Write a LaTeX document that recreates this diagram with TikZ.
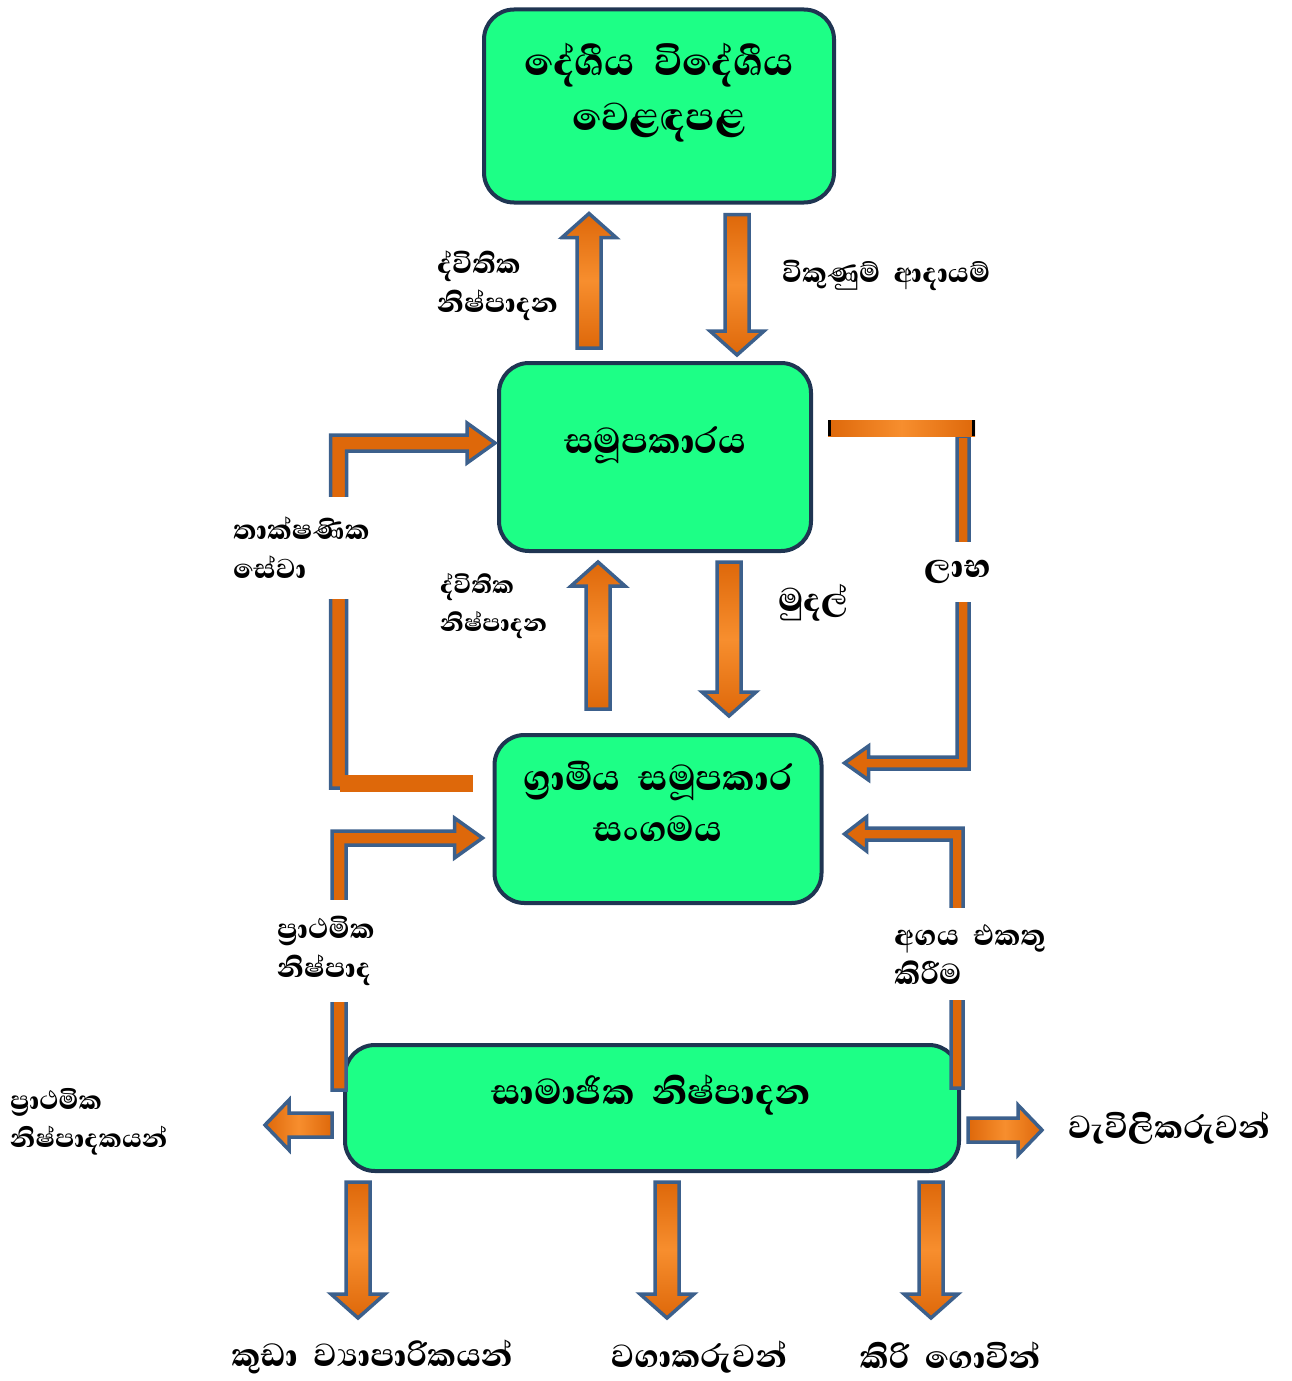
\documentclass[tikz,border=0pt]{standalone}
\usepackage{fontspec}
\setmainfont{Abhaya Libre}[Script=Sinhala,BoldFont={* ExtraBold}]
\usetikzlibrary{calc}

\definecolor{boxgreen}{RGB}{29,255,134}
\definecolor{boxline}{RGB}{31,53,82}
\definecolor{arrline}{RGB}{60,96,140}
\definecolor{orangeD}{RGB}{222,104,10}
\definecolor{orangeL}{RGB}{247,142,46}

% straight block arrows: tail, tip
\newcommand{\vblock}[2]{%
  \path[block arrow,top color=orangeD,bottom color=orangeD,middle color=orangeL]
  let \p1=#1, \p2=#2, \n1={ifthenelse(\y2>\y1,1,-1)} in
  (\x1-12pt,\y1) -- (\x1-12pt,{\y2-(\n1)*24pt}) -- (\x1-27pt,{\y2-(\n1)*24pt}) -- (\x1,\y2)
  -- (\x1+27pt,{\y2-(\n1)*24pt}) -- (\x1+12pt,{\y2-(\n1)*24pt}) -- (\x1+12pt,\y1) -- cycle;}
\newcommand{\hblock}[2]{%
  \path[block arrow,left color=orangeD,right color=orangeD,middle color=orangeL]
  let \p1=#1, \p2=#2, \n1={ifthenelse(\x2>\x1,1,-1)} in
  (\x1,\y1-12pt) -- ({\x2-(\n1)*24pt},\y1-12pt) -- ({\x2-(\n1)*24pt},\y1-25pt) -- (\x2,\y1)
  -- ({\x2-(\n1)*24pt},\y1+25pt) -- ({\x2-(\n1)*24pt},\y1+12pt) -- (\x1,\y1+12pt) -- cycle;}
% bent arrows: start, tip, half shaft, half head, head length
\newcommand{\lblock}[5]{%
  \path[bent arrow]
  let \p1=#1, \p2=#2, \n1={ifthenelse(\x2>\x1,1,-1)}, \n2={ifthenelse(\y2>\y1,1,-1)} in
  ({\x1-(\n1)*#3},\y1) -- ({\x1-(\n1)*#3},{\y2+(\n2)*#3}) -- ({\x2-(\n1)*#5},{\y2+(\n2)*#3})
  -- ({\x2-(\n1)*#5},{\y2+(\n2)*#4}) -- (\x2,\y2) -- ({\x2-(\n1)*#5},{\y2-(\n2)*#4})
  -- ({\x2-(\n1)*#5},{\y2-(\n2)*#3}) -- ({\x1+(\n1)*#3},{\y2-(\n2)*#3}) -- ({\x1+(\n1)*#3},\y1) -- cycle;}

\begin{document}
\begin{tikzpicture}[x=1pt,y=-1pt,
	main node/.style={rectangle,rounded corners=30pt,draw=boxline,line width=4pt,fill=boxgreen},
	box text/.style={align=center,font=\bfseries\fontsize{46}{55}\selectfont},
	tag/.style={align=left,fill=white,inner xsep=2pt,inner ysep=12pt,font=\bfseries\fontsize{35}{39}\selectfont},
	end tag/.style={inner sep=0pt,font=\bfseries\fontsize{41}{40}\selectfont},
	block arrow/.style={draw=arrline,line width=3.5pt},
	bent arrow/.style={draw=arrline,line width=3.5pt,fill=orangeD}]
	
	\useasboundingbox (0,0) rectangle (1291,1381);
	
	\node[main node,minimum width=350,minimum height=193] (mkt) at (659,106) {};
	\node[main node,minimum width=312,minimum height=188] (coop) at (655,457) {};
	\node[main node,minimum width=327,minimum height=168] (grama) at (658,819) {};
	\node[main node,minimum width=614,minimum height=126] (social) at (652,1108) {};
	\node[box text,font=\bfseries\fontsize{50}{55}\selectfont] (mkt name) at (659,93) {දේශීය~~විදේශීය\\වෙළඳපළ};
	\node[box text] (coop name) at (655,445) {සමූපකාරය};
	\node[box text,font=\bfseries\fontsize{46}{51}\selectfont] (grama name) at (658,801) {ග්^^^^200dරාමීය~~සමූපකාර\\සංගමය};
	\node[box text] (social name) at (651,1095) {සාමාජික~~නිෂ්පාදන};
	
	\coordinate (out1) at (265,1125);
	\coordinate (out2) at (1042,1130);
	\coordinate (out3) at (358,1318);
	\coordinate (out4) at (667,1318);
	\coordinate (out5) at (931,1318);
	
	\vblock{([xshift=-66pt,yshift=13pt]coop.north)}{([xshift=-70pt,yshift=-9pt]mkt.south)}
	\vblock{([xshift=78pt,yshift=-10pt]mkt.south)}{([xshift=82pt,yshift=6pt]coop.north)}
	\vblock{([xshift=-60pt,yshift=24pt]grama.north)}{([xshift=-57pt,yshift=-9pt]coop.south)}
	\vblock{([xshift=74pt,yshift=-9pt]coop.south)}{([xshift=71pt,yshift=17pt]grama.north)}
	\vblock{([xshift=-294pt,yshift=-9pt]social.south)}{(out3)}
	\vblock{([xshift=15pt,yshift=-9pt]social.south)}{(out4)}
	\vblock{([xshift=279pt,yshift=-9pt]social.south)}{(out5)}
	\hblock{([xshift=-11pt,yshift=-17pt]social.west)}{(out1)}
	\hblock{([xshift=7pt,yshift=-22pt]social.east)}{(out2)}
	
	\lblock{([xshift=-154pt,yshift=31pt]grama.west)}{([xshift=-2pt,yshift=14pt]coop.west)}{8pt}{20pt}{28pt}
	\fill[orangeD] ([xshift=-153pt,yshift=44pt]grama.west) rectangle ([xshift=-20pt,yshift=27pt]grama.west);
	\lblock{([xshift=150pt,yshift=21pt]coop.east)}{([xshift=21pt,yshift=56pt]grama.east)}{6pt}{17pt}{24pt}
	\path[left color=orangeD,right color=orangeD,middle color=orangeL]
		([xshift=15pt,yshift=37pt]coop.east) rectangle ([xshift=162pt,yshift=21pt]coop.east);
	\draw[line width=3pt] ([xshift=16.5pt,yshift=37pt]coop.east) -- ([xshift=16.5pt,yshift=21pt]coop.east)
		([xshift=160.5pt,yshift=37pt]coop.east) -- ([xshift=160.5pt,yshift=21pt]coop.east);
	\lblock{([xshift=-4pt,yshift=18pt]social.west)}{([xshift=-10pt,yshift=-19pt]grama.west)}{7pt}{20pt}{28pt}
	\lblock{([xshift=-4pt,yshift=20pt]social.east)}{([xshift=21pt,yshift=-15pt]grama.east)}{6pt}{17pt}{22pt}
	
	\node[tag,anchor=west] (sec1) at (435,286) {ද්විතික\\නිෂ්පාදන};
	\node[tag,anchor=west] (sales) at (780,275) {විකුණුම්~~ආදායම්};
	\node[tag,anchor=west,inner ysep=20pt] (tech) at (231,548) {තාක්ෂණික\\සේවා};
	\node[tag,anchor=west,font=\bfseries\fontsize{31}{38}\selectfont] (sec2) at (438,606) {ද්විතික\\නිෂ්පාදන};
	\node[tag,anchor=west,font=\bfseries\fontsize{42}{40}\selectfont] (money) at (776,603) {මුදල්};
	\node[tag,inner ysep=18pt,font=\bfseries\fontsize{42}{40}\selectfont] (profit) at (958,572) {ලාභ};
	\node[tag,anchor=west,inner ysep=16pt] (prim) at (275,951) {ප්^^^^200dරාථමික\\නිෂ්පාද};
	\node[tag,anchor=west,inner ysep=16pt,font=\bfseries\fontsize{37}{39}\selectfont] (value) at (892,954) {අගය~~එකතු\\කිරීම};
	\node[tag,anchor=west,inner ysep=2pt,font=\bfseries\fontsize{33}{38}\selectfont] (primp) at (8,1122) {ප්^^^^200dරාථමික\\නිෂ්පාදකයන්};
	\node[end tag,anchor=west] (estate) at (1068,1128) {වැවිලිකරුවන්};
	\node[end tag] (small) at (372,1357) {කුඩා~~ව්^^^^200dයාපාරිකයන්};
	\node[end tag] (grow) at (699,1357) {වගාකරුවන්};
	\node[end tag] (dairy) at (950,1355) {කිරි~~ගොවින්};
\end{tikzpicture}
\end{document}
